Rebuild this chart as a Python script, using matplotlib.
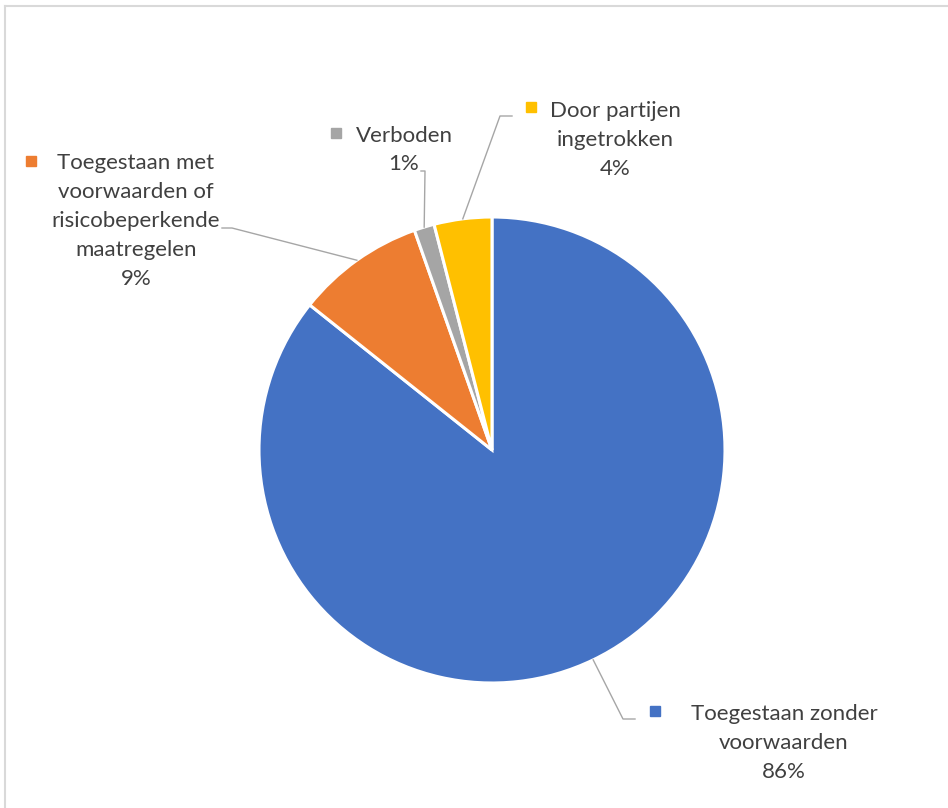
import matplotlib.pyplot as plt
import numpy as np
from matplotlib.lines import Line2D

# data
categories = [
    "Toegestaan zonder\nvoorwaarden",
    "Toegestaan met\nvoorwaarden of\nrisicobeperkende\nmaatregelen",
    "Verboden",
    "Door partijen\ningetrokken",
]
shares = [85.7, 8.9, 1.4, 4.0]
colors = ["#4472C4", "#ED7D31", "#A5A5A5", "#FFC000"]

W, H = 948, 808
CX, CY, R = 492, H - 450, 233

# label layout in pixels (x, y from top): text centre, legend key, leader elbow, leader end
label_pos = [(784, 743), (136, 221), (404, 150), (615, 140)]
key_pos = [(655, 711), (31, 161), (336, 133), (531, 107)]
elbows = [((623, 719), (635, 719)), ((232, 228), (222, 228)),
          ((425, 171), (421, 171)), ((500, 116), (512, 116))]

plt.rcParams["font.family"] = ["Lato", "DejaVu Sans"]

fig = plt.figure(figsize=(W / 100, H / 100), dpi=100)
ax = fig.add_axes([0, 0, 1, 1])
wedges, _ = ax.pie(
    shares,
    colors=colors,
    startangle=90,
    counterclock=False,
    center=(CX, CY),
    radius=R,
    wedgeprops={"edgecolor": "white", "linewidth": 2.2},
)
ax.set_xlim(0, W)
ax.set_ylim(0, H)
ax.set_aspect("equal")
ax.axis("off")

total = sum(shares)
for w, cat, val, col, (tx, ty), (kx, ky), (e1, e2) in zip(
    wedges, categories, shares, colors, label_pos, key_pos, elbows
):
    mid = np.deg2rad((w.theta1 + w.theta2) / 2)
    sx, sy = CX + R * np.cos(mid), CY + R * np.sin(mid)
    ax.add_line(Line2D([sx, e1[0], e2[0]], [sy, H - e1[1], H - e2[1]],
                       color="#a6a6a6", lw=1.0, zorder=1))
    pct = f"{round(val / total * 100):.0f}%"
    ax.text(tx, H - ty, f"{cat}\n{pct}", ha="center", va="center",
            multialignment="center", fontsize=16, color="#404040",
            linespacing=1.55)
    ax.plot([kx], [H - ky], marker="s", markersize=6.5, color=col, mec=col)

# chart border
fig.add_artist(Line2D([5 / W, 5 / W], [0, 1 - 6 / H], color="#d9d9d9", lw=1.5,
                      transform=fig.transFigure))
fig.add_artist(Line2D([5 / W, 1], [1 - 6 / H, 1 - 6 / H], color="#d9d9d9", lw=1.5,
                      transform=fig.transFigure))

fig.savefig("out.png", dpi=100, facecolor="white")
